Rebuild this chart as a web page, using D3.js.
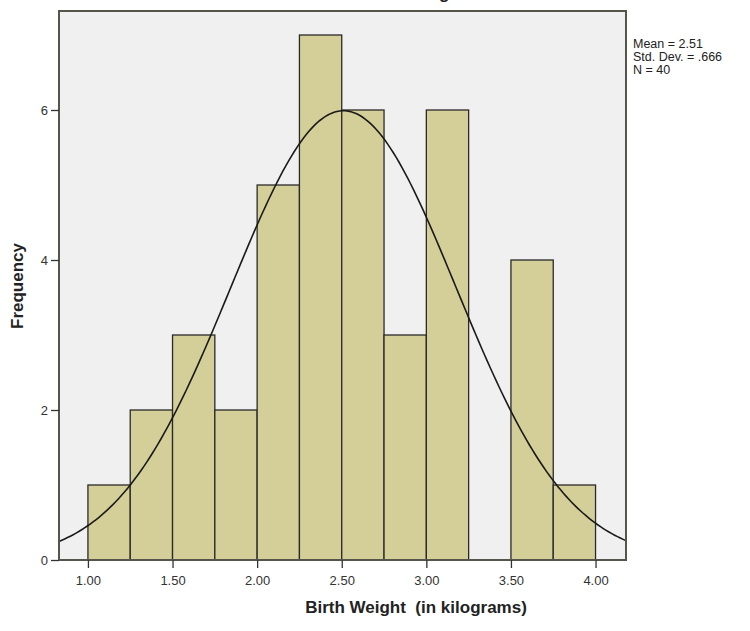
<!DOCTYPE html>
<html>
<head>
<meta charset="utf-8">
<script src="https://d3js.org/d3.v7.min.js"></script>
<style>
  body { margin: 0; background: #fff; }
  svg { display: block; font-family: "Liberation Sans", Arial, sans-serif; }
</style>
</head>
<body>
<svg id="chart" width="750" height="631"></svg>
<script>
// histogram bins (lower edges) and counts, bin width .25
var binStarts = [1.00, 1.25, 1.50, 1.75, 2.00, 2.25, 2.50, 2.75, 3.00, 3.25, 3.50, 3.75]
var counts = [1, 2, 3, 2, 5, 7, 6, 3, 6, 0, 4, 1]
var binWidth = 0.25
var xTicks = [1.00, 1.50, 2.00, 2.50, 3.00, 3.50, 4.00]
var yTicks = [0, 2, 4, 6]
var mean = 2.51, sd = 0.666, n = 40
var statLines = ["Mean = 2.51", "Std. Dev. = .666", "N = 40"]

var svg = d3.select("#chart")
var plotL = 59, plotR = 626, plotT = 11, plotB = 560

var x = d3.scaleLinear().domain([0.829, 4.18]).range([plotL, plotR])
var y = d3.scaleLinear().domain([0, 7.32]).range([plotB, plotT])

// title, mostly cut off at the top
svg.append("text")
    .attr("x", 415).attr("y", -1)
    .attr("text-anchor", "middle")
    .style("font-size", "17px").style("font-weight", "bold")
    .attr("fill", "#222")
    .text("Birth Weight")

// plot background
svg.append("rect")
    .attr("x", plotL).attr("y", plotT)
    .attr("width", plotR - plotL).attr("height", plotB - plotT)
    .attr("fill", "#f0f0f0")

// bars
var bars = binStarts.map(function(b, i) { return {x0: b, x1: b + binWidth, c: counts[i]} })
svg.append("g").selectAll("rect")
    .data(bars.filter(function(d) { return d.c > 0 }))
    .join("rect")
    .attr("x", function(d) { return x(d.x0) })
    .attr("y", function(d) { return y(d.c) })
    .attr("width", function(d) { return x(d.x1) - x(d.x0) })
    .attr("height", function(d) { return y(0) - y(d.c) })
    .attr("fill", "#d4cf99")
    .attr("stroke", "#2a2a2a")
    .attr("stroke-width", 1.3)

// normal curve scaled to counts
var k = n * binWidth / (sd * Math.sqrt(2 * Math.PI))
var curveX = d3.range(0, 201).map(function(i) { return x.domain()[0] + (x.domain()[1] - x.domain()[0]) * i / 200 })
var line = d3.line()
    .x(function(d) { return x(d) })
    .y(function(d) { return y(k * Math.exp(-0.5 * Math.pow((d - mean) / sd, 2))) })
svg.append("path")
    .datum(curveX)
    .attr("d", line)
    .attr("fill", "none")
    .attr("stroke", "#1a1a1a")
    .attr("stroke-width", 1.6)

// frame
svg.append("rect")
    .attr("x", plotL).attr("y", plotT)
    .attr("width", plotR - plotL).attr("height", plotB - plotT)
    .attr("fill", "none")
    .attr("stroke", "#55554c")
    .attr("stroke-width", 2)

// axes
var xAxis = svg.append("g")
    .attr("transform", "translate(0," + plotB + ")")
    .call(d3.axisBottom(x).tickValues(xTicks).tickFormat(d3.format(".2f")).tickSize(8).tickSizeOuter(0))
var yAxis = svg.append("g")
    .attr("transform", "translate(" + plotL + ",0)")
    .call(d3.axisLeft(y).tickValues(yTicks).tickFormat(d3.format("d")).tickSize(8).tickSizeOuter(0))
;[xAxis, yAxis].forEach(function(g) {
    g.select(".domain").remove()
    g.selectAll("line").attr("stroke", "#333").attr("stroke-width", 1.3)
    g.selectAll("text").attr("fill", "#333").style("font-size", "13px")
})
xAxis.selectAll("text").attr("dy", "1.1em")
yAxis.selectAll("text").attr("dx", "0px")

// axis titles
svg.append("text")
    .attr("x", 416).attr("y", 613)
    .attr("text-anchor", "middle")
    .style("font-size", "17px").style("font-weight", "bold")
    .attr("fill", "#222")
    .attr("xml:space", "preserve")
    .text("Birth Weight  (in kilograms)")

svg.append("text")
    .attr("transform", "translate(23,286) rotate(-90)")
    .attr("text-anchor", "middle")
    .style("font-size", "17px").style("font-weight", "bold")
    .attr("fill", "#222")
    .text("Frequency")

// stats
svg.append("g").selectAll("text")
    .data(statLines)
    .join("text")
    .attr("x", 633)
    .attr("y", function(d, i) { return 48 + i * 13 })
    .style("font-size", "12.5px")
    .attr("fill", "#222")
    .text(function(d) { return d })
</script>
</body>
</html>
